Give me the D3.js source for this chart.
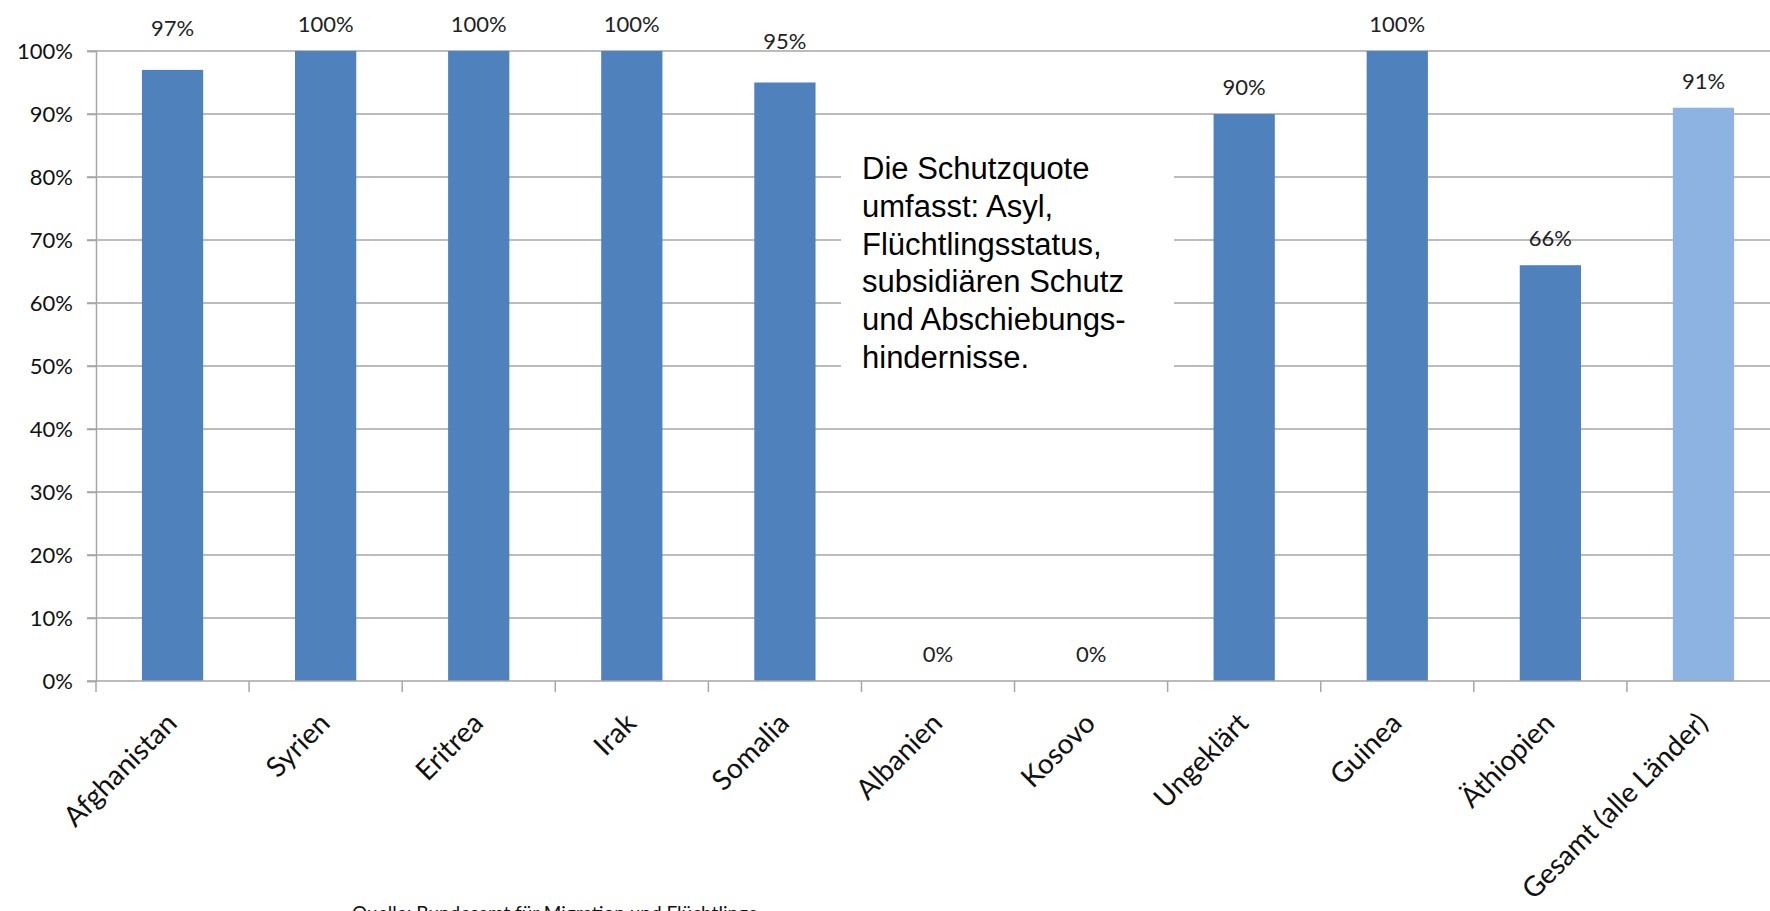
<!DOCTYPE html>
<html>
<head>
<meta charset="utf-8">
<script src="https://cdn.jsdelivr.net/npm/d3@7/dist/d3.min.js"></script>
<style>
  html, body { margin: 0; padding: 0; background: #fff; }
  svg { display: block; }
</style>
</head>
<body>
<svg id="chart" width="1770" height="911"></svg>
<script>
// ---- data ----
const categories = ["Afghanistan", "Syrien", "Eritrea", "Irak", "Somalia", "Albanien", "Kosovo", "Ungeklärt", "Guinea", "Äthiopien", "Gesamt (alle Länder)"];
const values = [0.97, 1.00, 1.00, 1.00, 0.95, 0.00, 0.00, 0.90, 1.00, 0.66, 0.91];
const yTicks = [0, 0.1, 0.2, 0.3, 0.4, 0.5, 0.6, 0.7, 0.8, 0.9, 1.0];
const noteLines = ["Die Schutzquote", "umfasst: Asyl,", "Flüchtlingsstatus,", "subsidiären Schutz", "und Abschiebungs-", "hindernisse."];
const sourceText = "Quelle: Bundesamt für Migration und Flüchtlinge";

// ---- layout ----
(function () {
const svg = d3.select("#chart");
const mLeft = 96, mRight = 1780, mTop = 51, mBottom = 681;
const barColor = "#4F81BD", totalColor = "#8DB3E2", gridColor = "#A6A6A6";
const labelFont = "Lato, 'Open Sans', sans-serif";

const x = d3.scaleBand().domain(categories).range([mLeft, mRight]).paddingInner(0.6).paddingOuter(0.3);
const y = d3.scaleLinear().domain([0, 1]).range([mBottom, mTop]);
const step = x.step();

// gridlines
svg.append("g").selectAll("line").data(yTicks.filter(t => t > 0)).join("line")
  .attr("x1", mLeft - 9).attr("x2", mRight)
  .attr("y1", d => y(d)).attr("y2", d => y(d))
  .attr("stroke", gridColor).attr("stroke-width", 1.5);

// y axis
const yAxis = d3.axisLeft(y).tickValues(yTicks).tickFormat(d3.format(".0%")).tickSize(9).tickPadding(14);
const gy = svg.append("g").attr("transform", `translate(${mLeft},0)`).call(yAxis);
gy.select(".domain").attr("stroke", gridColor).attr("stroke-width", 1.5);
gy.selectAll(".tick line").attr("stroke", gridColor).attr("stroke-width", 1.5);
gy.selectAll("text").attr("font-family", labelFont).attr("font-size", 22).attr("fill", "#111");

// bars
svg.append("g").selectAll("rect").data(categories).join("rect")
  .attr("x", d => x(d))
  .attr("width", x.bandwidth())
  .attr("y", (d, i) => y(values[i]))
  .attr("height", (d, i) => mBottom - y(values[i]))
  .attr("fill", (d, i) => i === categories.length - 1 ? totalColor : barColor);

// x axis baseline and ticks at category boundaries
const gx = svg.append("g");
gx.append("line").attr("x1", mLeft - 9).attr("x2", mRight).attr("y1", mBottom).attr("y2", mBottom)
  .attr("stroke", gridColor).attr("stroke-width", 1.5);
gx.selectAll("line.tk").data(d3.range(categories.length)).join("line").attr("class", "tk")
  .attr("x1", i => x(categories[i]) - (step - x.bandwidth()) / 2)
  .attr("x2", i => x(categories[i]) - (step - x.bandwidth()) / 2)
  .attr("y1", mBottom).attr("y2", mBottom + 11)
  .attr("stroke", gridColor).attr("stroke-width", 1.5);

// x labels, rotated
gx.selectAll("text").data(categories).join("text")
  .attr("transform", d => `translate(${x(d) + x.bandwidth() / 2 + 6},${mBottom + 44}) rotate(-45)`)
  .attr("text-anchor", "end")
  .attr("font-family", labelFont).attr("font-size", 28).attr("fill", "#111")
  .text(d => d);

// data labels (labels of bars just under the 100% line are lifted clear of it)
const labelGap = v => (v > 0.92 && v < 1) ? 34 : 19;
svg.append("g").selectAll("text").data(categories).join("text")
  .attr("x", d => x(d) + x.bandwidth() / 2)
  .attr("y", (d, i) => y(values[i]) - labelGap(values[i]))
  .attr("text-anchor", "middle")
  .attr("font-family", labelFont).attr("font-size", 22).attr("fill", "#222")
  .text((d, i) => d3.format(".0%")(values[i]));

// note box
const note = svg.append("g");
note.append("rect").attr("x", 841).attr("y", 140).attr("width", 333).attr("height", 250).attr("fill", "#fff");
note.append("text")
  .attr("font-family", "'Liberation Sans', Arial, sans-serif").attr("font-size", 31).attr("fill", "#000")
  .selectAll("tspan").data(noteLines).join("tspan")
  .attr("x", 862).attr("y", (d, i) => 179 + i * 37.8)
  .text(d => d);

// source
svg.append("text").attr("x", 352).attr("y", 920)
  .attr("font-family", labelFont).attr("font-size", 19).attr("fill", "#111")
  .text(sourceText);
})();
</script>
</body>
</html>
